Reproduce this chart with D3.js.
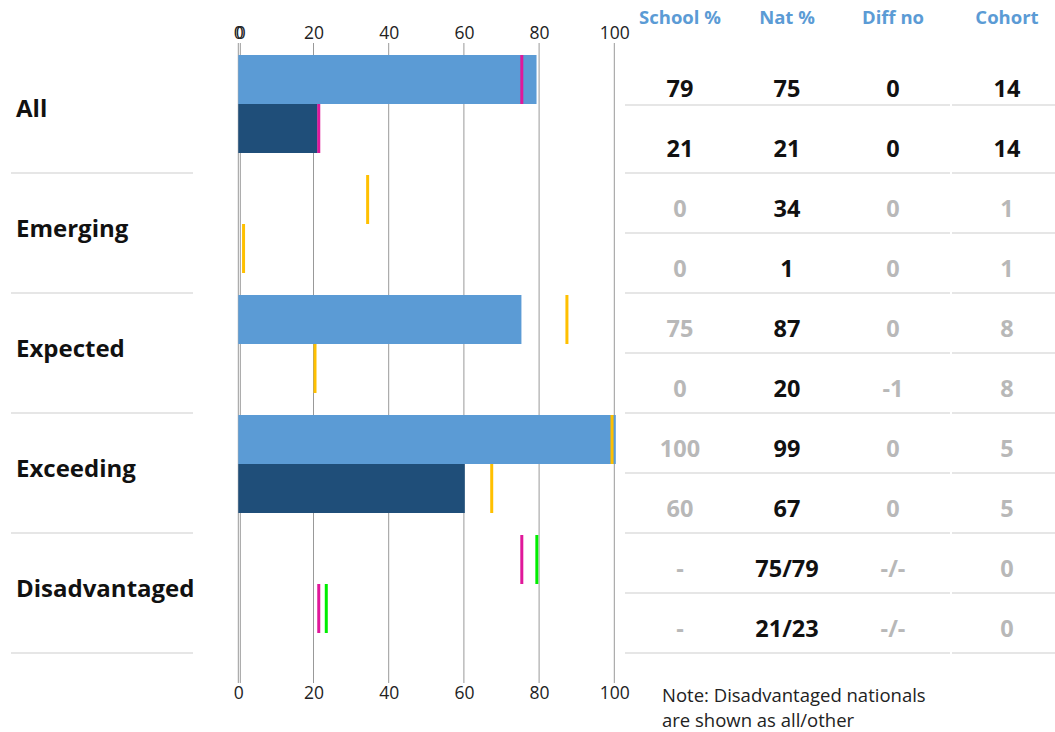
<!DOCTYPE html>
<html>
<head>
<meta charset="utf-8">
<script src="https://cdn.jsdelivr.net/npm/d3@7"></script>
<style>
  body { margin: 0; background: #fff; font-family: "Open Sans", sans-serif; }
  svg { display: block; }
  .tick text { font-family: "Open Sans", sans-serif; }
</style>
</head>
<body>
<svg></svg>
<script>
// categories and values
const categories = ["All", "Emerging", "Expected", "Exceeding", "Disadvantaged"];
const schoolVals = [[79, 21], [0, 0], [75, 0], [100, 60], [null, null]];
const natVals = [[75, 21], [34, 1], [87, 20], [99, 67], [75, 21]];
const natOtherVals = [null, null, null, null, [79, 23]];
const xTicks = [0, 20, 40, 60, 80, 100];

// table to the right
const tableHeaders = ["School %", "Nat %", "Diff no", "Cohort"];
const schoolPct = ["79", "21", "0", "0", "75", "0", "100", "60", "-", "-"];
const natPct = ["75", "21", "34", "1", "87", "20", "99", "67", "75/79", "21/23"];
const diffNo = ["0", "0", "0", "0", "0", "-1", "0", "0", "-/-", "-/-"];
const cohort = ["14", "14", "1", "1", "8", "8", "5", "5", "0", "0"];
const noteLines = ["Note: Disadvantaged nationals", "are shown as all/other"];

const width = 1055, height = 732;
const svg = d3.select("svg").attr("width", width).attr("height", height);

const lightBlue = "#5b9bd5", darkBlue = "#1f4e79";
const pink = "#e0189a", yellow = "#ffc000", green = "#00ee00";
const grey = "#999";

const x = d3.scaleLinear().domain([0, 100]).range([238.3, 614.3]);
// the bars sit on a second, slightly wider axis
const xBar = d3.scaleLinear().domain([0, 100]).range([238.3, 615.8]);
const y = d3.scaleBand().domain(categories).range([55, 655]);
const sub = d3.scaleBand().domain([0, 1]).range([0, 98]);

// vertical grid lines
svg.append("g").selectAll("line").data(xTicks)
  .enter().append("line")
    .attr("x1", d => x(d)).attr("x2", d => x(d))
    .attr("y1", 43).attr("y2", 683)
    .attr("stroke", grey).attr("stroke-width", 1);
// second zero line (overlaid axis)
svg.append("line")
  .attr("x1", x(0) + 2).attr("x2", x(0) + 2)
  .attr("y1", 43).attr("y2", 683)
  .attr("stroke", grey).attr("stroke-width", 1);

function styleAxis(g) {
  g.select(".domain").remove();
  g.selectAll("text").attr("font-size", "17.5px").attr("fill", "#222");
}

svg.append("g").attr("transform", "translate(0,43)")
  .call(d3.axisTop(x).tickValues(xTicks).tickSize(0).tickPadding(4))
  .call(styleAxis);
svg.append("g").attr("transform", "translate(2,43)")
  .call(d3.axisTop(x).tickValues([0]).tickSize(0).tickPadding(4))
  .call(styleAxis);
svg.append("g").attr("transform", "translate(0,683)")
  .call(d3.axisBottom(x).tickValues(xTicks).tickSize(0).tickPadding(4))
  .call(styleAxis);

// bars
const barData = [];
const markData = [];
categories.forEach((c, i) => {
  [0, 1].forEach(s => {
    const v = schoolVals[i][s];
    if (v != null) barData.push({c, s, v});
    const n = natVals[i][s];
    if (n != null) markData.push({c, s, v: n, color: (i === 0 || natOtherVals[i]) ? pink : yellow});
    const o = natOtherVals[i] ? natOtherVals[i][s] : null;
    if (o != null) markData.push({c, s, v: o, color: green});
  });
});

svg.append("g").selectAll("rect").data(barData)
  .enter().append("rect")
    .attr("x", xBar(0))
    .attr("y", d => y(d.c) + sub(d.s))
    .attr("width", d => xBar(d.v) - xBar(0))
    .attr("height", sub.bandwidth())
    .attr("fill", d => d.s === 0 ? lightBlue : darkBlue);

svg.append("g").selectAll("rect").data(markData)
  .enter().append("rect")
    .attr("x", d => x(d.v))
    .attr("y", d => y(d.c) + sub(d.s))
    .attr("width", 3)
    .attr("height", sub.bandwidth())
    .attr("fill", d => d.color);

// category labels and dividers
svg.append("g").selectAll("text").data(categories)
  .enter().append("text")
    .attr("x", 16)
    .attr("y", d => y(d) + 54)
    .attr("dy", "0.35em")
    .attr("font-size", "24px")
    .attr("font-weight", "bold")
    .attr("fill", "#111")
    .text(d => d);

svg.append("g").selectAll("line").data(categories)
  .enter().append("line")
    .attr("x1", 11).attr("x2", 193)
    .attr("y1", d => y(d) + 118).attr("y2", d => y(d) + 118)
    .attr("stroke", "#e6e6e6").attr("stroke-width", 2);

// table
const colX = [680, 787, 893, 1007];
const columns = [schoolPct, natPct, diffNo, cohort];
const rowY = d3.scaleLinear().domain([0, 1]).range([88.5, 148.5]);

svg.append("g").selectAll("text").data(tableHeaders)
  .enter().append("text")
    .attr("x", (d, i) => colX[i])
    .attr("y", 18)
    .attr("dy", "0.35em")
    .attr("text-anchor", "middle")
    .attr("font-size", "18.5px")
    .attr("font-weight", "bold")
    .attr("fill", lightBlue)
    .text(d => d);

const cells = [];
columns.forEach((col, ci) => col.forEach((v, ri) => {
  cells.push({v, ci, ri, dark: ci === 1 || ri < 2});
}));

svg.append("g").selectAll("text").data(cells)
  .enter().append("text")
    .attr("x", d => colX[d.ci])
    .attr("y", d => rowY(d.ri))
    .attr("dy", "0.35em")
    .attr("text-anchor", "middle")
    .attr("font-size", "23.5px")
    .attr("font-weight", "bold")
    .attr("fill", d => d.dark ? "#111" : "#b8b8b8")
    .text(d => d.v);

const rowLines = d3.range(schoolPct.length).map(i => i === 0 ? 105 : rowY(i) + 24.5);
[[625, 950], [952, 1055]].forEach(([a, b]) => {
  svg.append("g").selectAll("line").data(rowLines)
    .enter().append("line")
      .attr("x1", a).attr("x2", b)
      .attr("y1", d => d).attr("y2", d => d)
      .attr("stroke", "#e6e6e6").attr("stroke-width", 2);
});

// note
svg.append("g").selectAll("text").data(noteLines)
  .enter().append("text")
    .attr("x", 662)
    .attr("y", (d, i) => 696 + i * 25)
    .attr("dy", "0.35em")
    .attr("font-size", "18.5px")
    .attr("fill", "#222")
    .text(d => d);
</script>
</body>
</html>
